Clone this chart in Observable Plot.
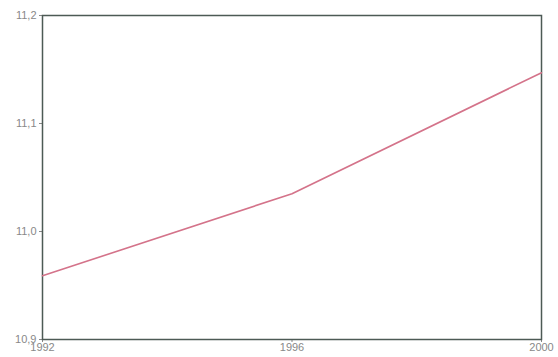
<!DOCTYPE html>
<html><head><meta charset="utf-8">
<script src="https://cdn.jsdelivr.net/npm/d3@7"></script>
<script src="https://cdn.jsdelivr.net/npm/@observablehq/plot@0.6"></script>
<style>body{margin:0;background:#fff;} svg{display:block;}</style>
</head><body><div id="chart"></div>
<script>
const years = [1992, 1996, 2000];
const values = [10.959, 11.035, 11.147];
const yTicks = [10.9, 11.0, 11.1, 11.2];
const yTickLabels = ["10,9", "11,0", "11,1", "11,2"];
const xTicks = [1992, 1996, 2000];

const data = years.map((y, i) => ({year: y, value: values[i]}));

const chart = Plot.plot({
  width: 558, height: 357,
  marginLeft: 42, marginRight: 17, marginTop: 15, marginBottom: 18,
  style: {fontFamily: "Liberation Sans, Arial, sans-serif", fontSize: "11px", color: "#888", background: "#fff"},
  x: {domain: [1992, 2000], ticks: xTicks, tickFormat: d => String(d), tickSize: 3, tickPadding: 1, label: null},
  y: {domain: [10.9, 11.2], ticks: yTicks, tickFormat: (d, i) => yTickLabels[yTicks.indexOf(d)], tickSize: 3, tickPadding: 3, label: null},
  marks: [
    Plot.frame({stroke: "#4d5a55", strokeWidth: 1.5}),
    Plot.line(data, {x: "year", y: "value", stroke: "#d4738a", strokeWidth: 1.6})
  ]
});
document.getElementById("chart").appendChild(chart);
</script></body></html>
